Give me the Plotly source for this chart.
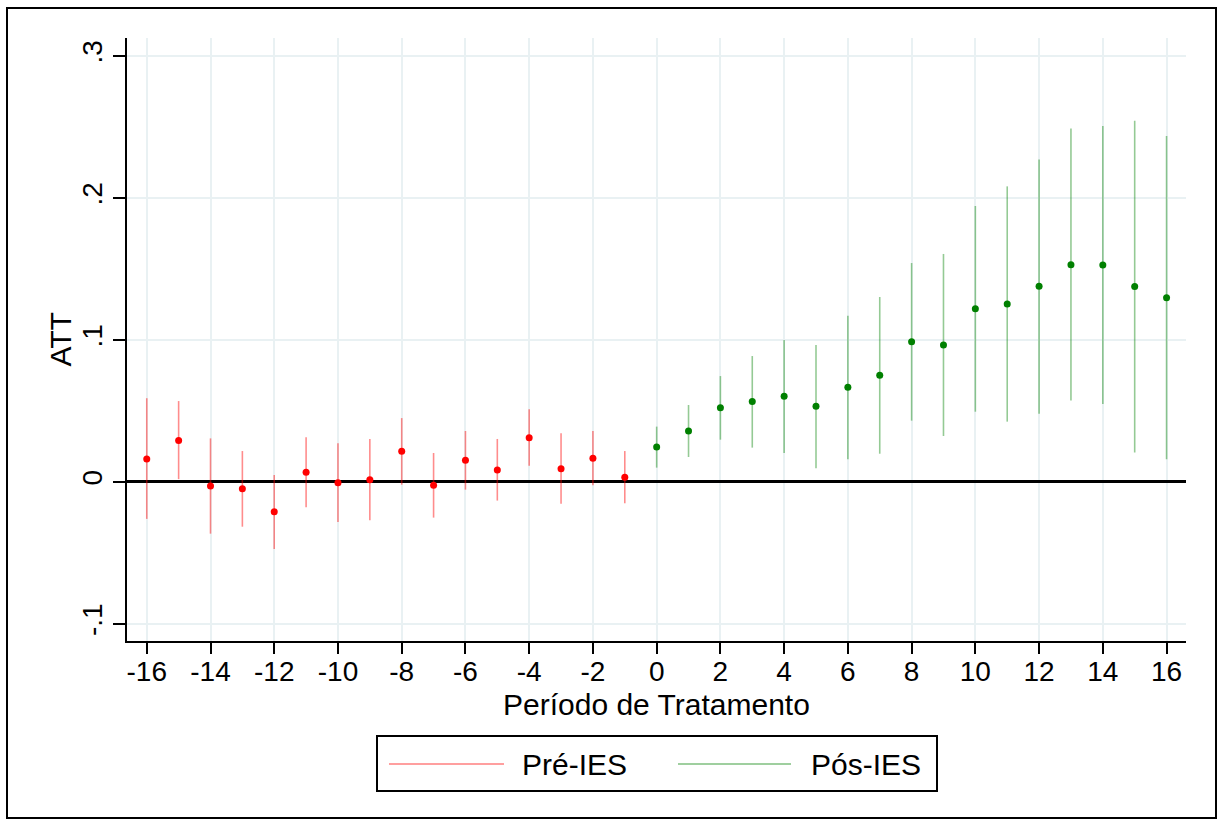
import plotly.graph_objects as go

# ---- data ----
pre_periods = [-16, -15, -14, -13, -12, -11, -10, -9, -8, -7, -6, -5, -4, -3, -2, -1]
pre_att = [0.0162, 0.0293, -0.0028, -0.0047, -0.0209, 0.0068, -0.0005, 0.0016,
           0.0216, -0.0023, 0.0153, 0.0085, 0.0312, 0.0094, 0.0167, 0.0033]
pre_lo = [-0.026, 0.002, -0.0364, -0.0315, -0.0472, -0.0178, -0.0282, -0.027,
          -0.0019, -0.0251, -0.0054, -0.0131, 0.0115, -0.0153, -0.0023, -0.015]
pre_hi = [0.059, 0.057, 0.0307, 0.0218, 0.0049, 0.0315, 0.0272, 0.0303,
          0.045, 0.0204, 0.0359, 0.0303, 0.0512, 0.0343, 0.0359, 0.0218]

post_periods = [0, 1, 2, 3, 4, 5, 6, 7, 8, 9, 10, 11, 12, 13, 14, 15, 16]
post_att = [0.0246, 0.0359, 0.0523, 0.0566, 0.0603, 0.0533, 0.0667, 0.0751, 0.0988,
            0.0965, 0.122, 0.1254, 0.1378, 0.153, 0.1528, 0.1376, 0.1298]
post_lo = [0.0101, 0.0176, 0.0298, 0.0242, 0.0204, 0.0096, 0.016, 0.0199, 0.0432,
           0.0324, 0.0495, 0.0425, 0.0481, 0.0573, 0.0549, 0.0207, 0.016]
post_hi = [0.039, 0.0542, 0.0746, 0.0887, 0.1, 0.0965, 0.1171, 0.1303, 0.1542,
           0.1606, 0.1944, 0.2082, 0.2272, 0.249, 0.2507, 0.2545, 0.2437]

x_ticks = list(range(-16, 17, 2))
y_ticks = [-0.1, 0, 0.1, 0.2, 0.3]
y_tick_text = ["-.1", "0", ".1", ".2", ".3"]

x_title = "Período de Tratamento"
y_title = "ATT"
legend_labels = ["Pré-IES", "Pós-IES"]

# ---- layout geometry ----
W, H = 1219, 820
ML, MR, MT, MB = 127, 33, 38, 179
PW, PH = W - ML - MR, H - MT - MB
FONT = "Arial, 'Liberation Sans', sans-serif"
FS = 28

def px_x(x):
    return (x - ML) / PW

def px_y(y):
    return (H - MB - y) / PH

fig = go.Figure()

def add_series(xs, est, lo, hi, dot_color, bar_color, name):
    fig.add_trace(go.Scatter(
        x=xs, y=est, mode="markers", name=name, showlegend=False,
        marker=dict(color=dot_color, size=7, line=dict(width=0)),
        error_y=dict(type="data", symmetric=False,
                     array=[h - e for h, e in zip(hi, est)],
                     arrayminus=[e - l for e, l in zip(est, lo)],
                     width=0, thickness=1.6, color=bar_color),
    ))

add_series(pre_periods, pre_att, pre_lo, pre_hi, "#ff0000", "rgba(255,0,0,0.45)", legend_labels[0])
add_series(post_periods, post_att, post_lo, post_hi, "#008000", "rgba(0,128,0,0.42)", legend_labels[1])

# outer border
fig.add_shape(type="rect", xref="paper", yref="paper",
              x0=px_x(7), x1=px_x(1216), y0=px_y(818), y1=px_y(8),
              line=dict(color="black", width=2), fillcolor="rgba(0,0,0,0)")

# manual legend
fig.add_shape(type="rect", xref="paper", yref="paper",
              x0=px_x(377), x1=px_x(937), y0=px_y(791), y1=px_y(736),
              line=dict(color="black", width=2), fillcolor="rgba(0,0,0,0)")
leg_y = px_y(764)
fig.add_shape(type="line", xref="paper", yref="paper",
              x0=px_x(389), x1=px_x(504), y0=leg_y, y1=leg_y,
              line=dict(color="rgba(255,0,0,0.5)", width=1.3))
fig.add_shape(type="line", xref="paper", yref="paper",
              x0=px_x(678), x1=px_x(791), y0=leg_y, y1=leg_y,
              line=dict(color="rgba(0,128,0,0.5)", width=1.3))
fig.add_annotation(x=px_x(520), y=leg_y, xref="paper", yref="paper",
                   text=legend_labels[0], showarrow=False, xanchor="left", yanchor="middle",
                   font=dict(family=FONT, size=30, color="black"))
fig.add_annotation(x=px_x(809), y=leg_y, xref="paper", yref="paper",
                   text=legend_labels[1], showarrow=False, xanchor="left", yanchor="middle",
                   font=dict(family=FONT, size=30, color="black"))

# axis titles
fig.add_annotation(x=0.5, y=px_y(704), xref="paper", yref="paper",
                   text=x_title, showarrow=False, xanchor="center", yanchor="middle",
                   font=dict(family=FONT, size=30, color="black"))
fig.add_annotation(x=px_x(60), y=0.5, xref="paper", yref="paper",
                   text=y_title, showarrow=False, xanchor="center", yanchor="middle",
                   textangle=-90, font=dict(family=FONT, size=30, color="black"))

fig.update_xaxes(
    range=[-16.62, 16.61], tickvals=x_ticks, ticktext=[str(v) for v in x_ticks],
    showgrid=True, gridcolor="#e9f1f3", gridwidth=1.6,
    zeroline=False, showline=True, linecolor="black", linewidth=1.5,
    ticks="outside", ticklen=11, tickwidth=1.5, tickcolor="black",
    ticklabelstandoff=-6,
    tickfont=dict(family=FONT, size=FS, color="black"),
)
fig.update_yaxes(
    range=[-0.112, 0.3127], tickvals=y_ticks, ticktext=y_tick_text, tickangle=-90,
    showgrid=True, gridcolor="#e9f1f3", gridwidth=1.6,
    zeroline=True, zerolinecolor="black", zerolinewidth=2.5,
    showline=True, linecolor="black", linewidth=1.5,
    ticks="outside", ticklen=12, tickwidth=1.5, tickcolor="black",
    tickfont=dict(family=FONT, size=FS, color="black"),
)

fig.update_layout(
    width=W, height=H,
    margin=dict(l=ML, r=MR, t=MT, b=MB, autoexpand=False),
    paper_bgcolor="white", plot_bgcolor="white",
    showlegend=False,
    font=dict(family=FONT, size=FS, color="black"),
)

fig.write_html("out.html", config={"displayModeBar": False},
               post_script="document.body.style.margin='0';document.body.style.overflow='hidden';")
